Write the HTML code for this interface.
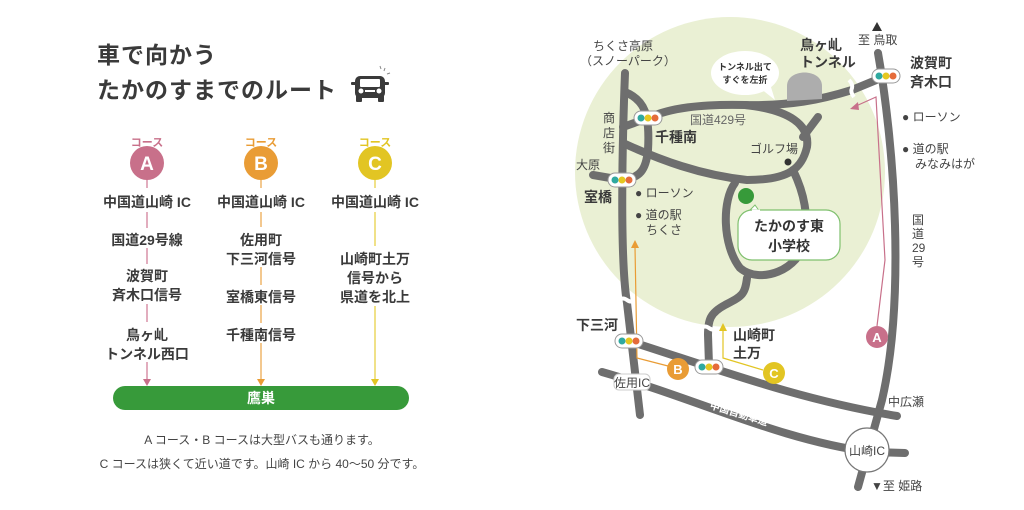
<!DOCTYPE html>
<html><head><meta charset="utf-8"><style>
html,body{margin:0;padding:0;background:#fff;}
svg{display:block;font-family:"Liberation Sans","Noto Sans CJK JP",sans-serif;}
.b{font-weight:bold;fill:#3a3a3a}
.t{fill:#444}
.rd{fill:none;stroke:#6e6e6e;stroke-width:8;stroke-linecap:round;stroke-linejoin:round}
</style></head><body>
<svg width="1024" height="510" viewBox="0 0 1024 510" xmlns="http://www.w3.org/2000/svg">
<text x="97" y="63" class="b" font-size="23" letter-spacing="1">車で向かう</text>
<text x="97" y="98" class="b" font-size="23" letter-spacing="1">たかのすまでのルート</text>
<g fill="#3a3a3a">
<rect x="355" y="76" width="30" height="22" rx="5"/>
<rect x="356" y="95" width="6" height="7" rx="1"/>
<rect x="378" y="95" width="6" height="7" rx="1"/>
<rect x="351" y="82" width="5" height="3" rx="1"/>
<rect x="384" y="82" width="5" height="3" rx="1"/>
</g>
<rect x="360" y="79" width="20" height="8" fill="#fff" rx="1"/>
<circle cx="361" cy="91" r="2.5" fill="#fff"/><circle cx="379" cy="91" r="2.5" fill="#fff"/>
<rect x="365" y="90" width="10" height="2" fill="#fff"/>
<g stroke="#888" stroke-width="1"><line x1="380" y1="66" x2="381" y2="69"/><line x1="385" y1="68" x2="384" y2="71"/><line x1="390" y1="73" x2="387" y2="74"/></g>

<g font-size="11" font-weight="bold" text-anchor="middle">
<text x="147" y="146" fill="#c8708a">コース</text>
<text x="261" y="146" fill="#e99c35">コース</text>
<text x="375" y="146" fill="#e2c523">コース</text>
</g>
<line x1="147" y1="170" x2="147" y2="380" stroke="#d892a8" stroke-width="1.5"/>
<line x1="261" y1="170" x2="261" y2="380" stroke="#efb56a" stroke-width="1.5"/>
<line x1="375" y1="170" x2="375" y2="380" stroke="#ecd760" stroke-width="1.5"/>
<polygon points="143,379 151,379 147,386" fill="#c8708a"/>
<polygon points="257,379 265,379 261,386" fill="#e99c35"/>
<polygon points="371,379 379,379 375,386" fill="#e2c523"/>
<circle cx="147" cy="163" r="17" fill="#c8708a"/>
<circle cx="261" cy="163" r="17" fill="#e99c35"/>
<circle cx="375" cy="163" r="17" fill="#e2c523"/>
<g font-size="19" font-weight="bold" fill="#fff" text-anchor="middle">
<text x="147" y="170">A</text><text x="261" y="170">B</text><text x="375" y="170">C</text></g>
<g font-size="14" font-weight="bold" fill="#3a3a3a" text-anchor="middle">
<rect x="95" y="188" width="340" height="24" fill="#fff"/>
<text x="147" y="207">中国道山崎 IC</text><text x="261" y="207">中国道山崎 IC</text><text x="375" y="207">中国道山崎 IC</text>
<rect x="100" y="228" width="94" height="20" fill="#fff"/>
<text x="147" y="245">国道29号線</text>
<rect x="100" y="264" width="94" height="40" fill="#fff"/>
<text x="147" y="281">波賀町</text><text x="147" y="300">斉木口信号</text>
<rect x="100" y="322" width="94" height="40" fill="#fff"/>
<text x="147" y="340">鳥ヶ乢</text><text x="147" y="359">トンネル西口</text>
<rect x="214" y="227" width="94" height="40" fill="#fff"/>
<text x="261" y="245">佐用町</text><text x="261" y="264">下三河信号</text>
<rect x="214" y="285" width="94" height="20" fill="#fff"/>
<text x="261" y="302">室橋東信号</text>
<rect x="214" y="323" width="94" height="20" fill="#fff"/>
<text x="261" y="340">千種南信号</text>
<rect x="328" y="246" width="94" height="60" fill="#fff"/>
<text x="375" y="264">山崎町土万</text><text x="375" y="283">信号から</text><text x="375" y="302">県道を北上</text>
</g>
<rect x="113" y="386" width="296" height="24" rx="12" fill="#379a3a"/>
<text x="261" y="403" font-size="14" font-weight="bold" fill="#fff" text-anchor="middle">鷹巣</text>
<g font-size="12" fill="#444" text-anchor="middle">
<text x="262" y="444">A コース・B コースは大型バスも通ります。</text>
<text x="262" y="468">C コースは狭くて近い道です。山崎 IC から 40～50 分です。</text>
</g>

<circle cx="730" cy="172" r="155" fill="#eaf0d4"/>
<path class="rd" d="M878,53 C895,150 905,300 882,400 L858,487" />
<path class="rd" stroke-width="14" d="M602,372 C700,400 780,440 870,452 L905,453" />
<path class="rd" d="M629,341 C720,370 800,400 897,416"/>
<path class="rd" d="M625,73 C622,150 620,260 627,303 L640,415"/>
<path class="rd" d="M625,92 C645,100 650,115 648,150 C646,170 640,178 622,180 L593,175"/>
<path class="rd" d="M852,90 C820,100 790,106 745,105 C700,104 670,108 648,118 L623,127"/>
<path class="rd" d="M745,105 C790,110 810,125 807,147 C802,168 790,180 747,180 C700,175 660,160 623,143"/>
<path class="rd" d="M803,137 L818,117"/>
<path class="rd" d="M735,183 C722,200 722,245 740,268 C760,285 800,270 805,240 C808,215 805,195 793,170"/>
<path class="rd" d="M747,278 C745,295 742,296 725,305 C710,313 708,320 708,335 L709,365"/>
<path class="rd" d="M852,90 L886,76"/>
<g stroke="#fff" stroke-width="4" fill="none">
<path d="M849,80 q4,4 3,8 q-2,4 2,9"/>
<path d="M619,300 q4,-3 8,0 q4,3 8,0"/>
<path d="M701,328 q4,-3 8,0 q4,3 8,0"/>
</g>
<path d="M787,101 L787,86 C787,68 822,68 822,86 L822,99 Z" fill="#adadad"/>
<ellipse cx="745" cy="73" rx="34" ry="22" fill="#fff"/>
<polygon points="760,88 775,100 770,84" fill="#fff"/>
<text x="745" y="70" font-size="9" font-weight="bold" fill="#333" text-anchor="middle">トンネル出て</text>
<text x="745" y="83" font-size="9" font-weight="bold" fill="#333" text-anchor="middle">すぐを左折</text>
<circle cx="746" cy="196" r="8" fill="#379a3a"/>
<path d="M755,205 L760,212 L748,212 Z" fill="#fff" stroke="#7fc06e"/>
<rect x="738" y="210" width="102" height="50" rx="14" fill="#fff" stroke="#7fc06e" stroke-width="1.2"/>
<path d="M752,210.6 L760,210.6" stroke="#fff" stroke-width="2"/>
<text x="789" y="231" font-size="14" font-weight="bold" fill="#333" text-anchor="middle">たかのす東</text>
<text x="789" y="251" font-size="14" font-weight="bold" fill="#333" text-anchor="middle">小学校</text>
<path d="M877,326 L885,260 L876,97 L856,106" fill="none" stroke="#c8708a" stroke-width="1.2"/>
<polygon points="850,109 858,102 859,110" fill="#c8708a"/>
<circle cx="877" cy="337" r="11" fill="#c8708a"/>
<path d="M635,247 L637,358 L668,366" fill="none" stroke="#e99c35" stroke-width="1.2"/>
<polygon points="631,248 639,248 635,240" fill="#e99c35"/>
<circle cx="678" cy="369" r="11" fill="#e99c35"/>
<path d="M723,330 L723,358 L763,370" fill="none" stroke="#e2c523" stroke-width="1.2"/>
<polygon points="719,331 727,331 723,323" fill="#e2c523"/>
<circle cx="774" cy="373" r="11" fill="#e2c523"/>
<g font-size="13" font-weight="bold" fill="#fff" text-anchor="middle">
<text x="877" y="342">A</text><text x="678" y="374">B</text><text x="774" y="378">C</text></g>
<g id="tl">
<rect x="872" y="69" width="28" height="14" rx="7" fill="#fff" stroke="#999"/>
<circle cx="879" cy="76" r="3.5" fill="#2fa9a0"/><circle cx="886" cy="76" r="3.5" fill="#e5c820"/><circle cx="893" cy="76" r="3.5" fill="#e56b3a"/>
</g>
<use href="#tl" x="-238" y="42"/>
<use href="#tl" x="-264" y="104"/>
<use href="#tl" x="-257" y="265"/>
<use href="#tl" x="-177" y="291"/>
<rect x="614" y="374" width="36" height="16" rx="5" fill="#fff" stroke="#ccc"/>
<text x="632" y="387" font-size="12" fill="#444" text-anchor="middle">佐用IC</text>
<circle cx="867" cy="450" r="22" fill="#fff" stroke="#777" stroke-width="1.2"/>
<text x="867" y="455" font-size="12" fill="#444" text-anchor="middle">山崎IC</text>
<text x="738" y="417" font-size="10" font-weight="bold" fill="#fff" text-anchor="middle" transform="rotate(17 738 417)">中国自動車道</text>
<g class="t" font-size="12">
<text x="593" y="50">ちくさ高原</text>
<text x="580" y="65">（スノーパーク）</text>
<text x="603" y="122">商</text><text x="603" y="137">店</text><text x="603" y="152">街</text>
<text x="576" y="169">大原</text>
<text x="635" y="197">● ローソン</text>
<text x="635" y="219">● 道の駅</text>
<text x="646" y="234">ちくさ</text>
<text x="690" y="124" fill="#666">国道429号</text>
<text x="750" y="153">ゴルフ場</text>
<text x="858" y="44">至 鳥取</text>
<text x="902" y="121">● ローソン</text>
<text x="902" y="153">● 道の駅</text>
<text x="915" y="168">みなみはが</text>
<text x="912" y="224">国</text><text x="912" y="238">道</text><text x="912" y="252">29</text><text x="912" y="266">号</text>
<text x="888" y="406">中広瀬</text>
<text x="871" y="490">▼至 姫路</text>
</g>
<polygon points="872,31 882,31 877,22" fill="#333"/>
<circle cx="788" cy="162" r="3.5" fill="#333"/>
<g class="b" font-size="14">
<text x="655" y="142">千種南</text>
<text x="584" y="202">室橋</text>
<text x="800" y="50">鳥ヶ乢</text>
<text x="800" y="67">トンネル</text>
<text x="910" y="68">波賀町</text>
<text x="910" y="87">斉木口</text>
<text x="576" y="330">下三河</text>
<text x="733" y="340">山崎町</text>
<text x="733" y="358">土万</text>
</g>
</svg>
</body></html>
